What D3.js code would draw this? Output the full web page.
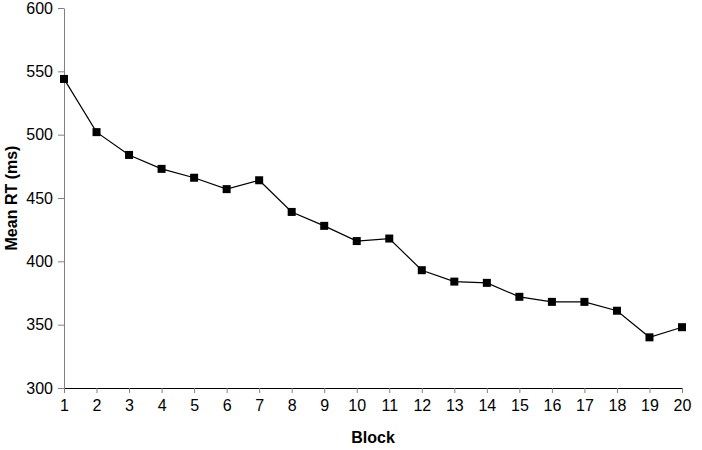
<!DOCTYPE html>
<html>
<head>
<meta charset="utf-8">
<script src="https://cdn.jsdelivr.net/npm/d3@7"></script>
<style>
  body { margin: 0; background: #fff; }
  svg text { font-family: "Liberation Sans", Arial, sans-serif; }
</style>
</head>
<body>
<div id="chart"></div>
<script>
var blocks = [1, 2, 3, 4, 5, 6, 7, 8, 9, 10, 11, 12, 13, 14, 15, 16, 17, 18, 19, 20];
var meanRT = [544, 502, 484, 473, 466, 457, 464, 439, 428, 416, 418, 393, 384, 383, 372, 368, 368, 361, 340, 348];
var yTicks = [300, 350, 400, 450, 500, 550, 600];

var width = 702, height = 450;
var plotLeft = 64, plotRight = 682, plotTop = 8, plotBottom = 388;

var svg = d3.select("#chart").append("svg")
    .attr("width", width)
    .attr("height", height);

var x = d3.scaleLinear().domain([1, 20]).range([plotLeft, plotRight]);
var y = d3.scaleLinear().domain([300, 600]).range([plotBottom, plotTop]);

// y axis
var yAxis = svg.append("g")
    .attr("transform", "translate(" + plotLeft + ",0)")
    .call(d3.axisLeft(y).tickValues(yTicks).tickSize(6).tickSizeOuter(0).tickPadding(5));
yAxis.selectAll("line, path").attr("stroke", "#808080");
yAxis.selectAll("text").attr("font-size", 16).attr("fill", "#000")
    .style("font-family", "Liberation Sans, Arial, sans-serif");

// x axis
var xAxis = svg.append("g")
    .attr("transform", "translate(0," + plotBottom + ")")
    .call(d3.axisBottom(x).tickValues(blocks).tickFormat(d3.format("d")).tickSize(5).tickSizeOuter(0).tickPadding(7));
xAxis.select("path").attr("stroke", "#000");
xAxis.selectAll("line").attr("stroke", "#808080");
xAxis.selectAll("text").attr("font-size", 16).attr("fill", "#000")
    .style("font-family", "Liberation Sans, Arial, sans-serif");

// line
var line = d3.line()
    .x(function (d, i) { return x(blocks[i]); })
    .y(function (d) { return y(d); });

svg.append("path")
    .datum(meanRT)
    .attr("fill", "none")
    .attr("stroke", "#000")
    .attr("stroke-width", 1.2)
    .attr("d", line);

svg.selectAll("rect.pt")
    .data(meanRT)
    .enter()
    .append("rect")
    .attr("class", "pt")
    .attr("x", function (d, i) { return x(blocks[i]) - 4; })
    .attr("y", function (d) { return y(d) - 4; })
    .attr("width", 8)
    .attr("height", 8)
    .attr("fill", "#000");

// axis titles
svg.append("text")
    .attr("x", 373)
    .attr("y", 443)
    .attr("text-anchor", "middle")
    .attr("font-size", 16)
    .attr("font-weight", "bold")
    .text("Block");

svg.append("text")
    .attr("transform", "translate(17,198) rotate(-90)")
    .attr("text-anchor", "middle")
    .attr("font-size", 16)
    .attr("font-weight", "bold")
    .text("Mean RT (ms)");
</script>
</body>
</html>
